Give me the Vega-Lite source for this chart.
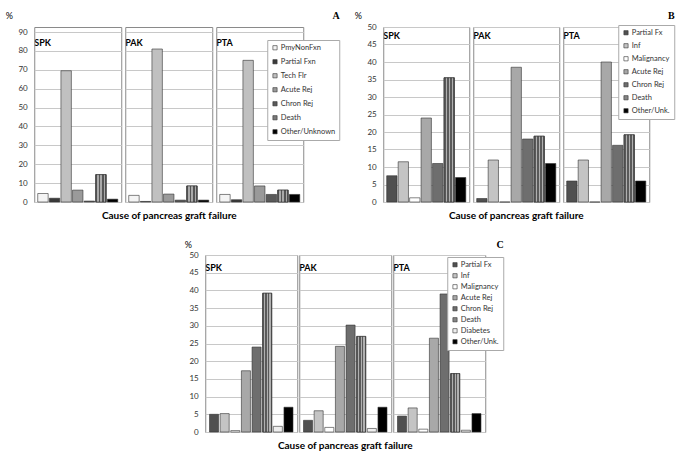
{
  "$schema": "https://vega.github.io/schema/vega-lite/v6.json",
  "background": "white",
  "padding": {"left": 5, "top": 11, "right": 2, "bottom": 2},
  "config": {
    "font": "Lato",
    "view": {"stroke": "#8a8a8a", "strokeWidth": 1},
    "axis": {"labelFontSize": 8, "labelColor": "#333", "ticks": false, "domain": false, "gridColor": "#c8c8c8", "gridWidth": 1, "labelPadding": 6, "titleFontSize": 9, "titleFontWeight": "normal", "titleAngle": 0, "titleAlign": "left", "titleBaseline": "middle"},
    "legend": {"labelFontSize": 7.5, "labelColor": "#333", "symbolType": "square", "symbolSize": 18, "symbolStrokeColor": "#333", "symbolStrokeWidth": 0.6, "strokeColor": "#aaa", "fillColor": "white", "padding": 4, "title": null, "labelFont": "Lato", "labelOffset": 2},
    "header": {"labelFontWeight": "bold", "labelFontSize": 9, "titleFontWeight": "bold", "titleFontSize": 10, "labelFont": "Lato", "titleFont": "Lato", "titlePadding": -2},
    "title": {"fontSize": 10, "fontWeight": "bold", "anchor": "end", "font": "Liberation Serif", "offset": -10}
  },
  "datasets": {
    "A": [
      {"group": "SPK", "cause": "PmyNonFxn", "value": 4.5},
      {"group": "SPK", "cause": "Partial Fxn", "value": 2},
      {"group": "SPK", "cause": "Tech Flr", "value": 69.5},
      {"group": "SPK", "cause": "Acute Rej", "value": 6.3},
      {"group": "SPK", "cause": "Chron Rej", "value": 0.5},
      {"group": "SPK", "cause": "Death", "value": 14.5},
      {"group": "SPK", "cause": "Other/Unknown", "value": 1.5},
      {"group": "PAK", "cause": "PmyNonFxn", "value": 3.5},
      {"group": "PAK", "cause": "Partial Fxn", "value": 0.3},
      {"group": "PAK", "cause": "Tech Flr", "value": 81},
      {"group": "PAK", "cause": "Acute Rej", "value": 4.2},
      {"group": "PAK", "cause": "Chron Rej", "value": 1},
      {"group": "PAK", "cause": "Death", "value": 8.5},
      {"group": "PAK", "cause": "Other/Unknown", "value": 1},
      {"group": "PTA", "cause": "PmyNonFxn", "value": 4},
      {"group": "PTA", "cause": "Partial Fxn", "value": 1.2},
      {"group": "PTA", "cause": "Tech Flr", "value": 75},
      {"group": "PTA", "cause": "Acute Rej", "value": 8.5},
      {"group": "PTA", "cause": "Chron Rej", "value": 4},
      {"group": "PTA", "cause": "Death", "value": 6.3},
      {"group": "PTA", "cause": "Other/Unknown", "value": 4}
    ],
    "B": [
      {"group": "SPK", "cause": "Partial Fx", "value": 7.5},
      {"group": "SPK", "cause": "Inf", "value": 11.5},
      {"group": "SPK", "cause": "Malignancy", "value": 1.2},
      {"group": "SPK", "cause": "Acute Rej", "value": 24},
      {"group": "SPK", "cause": "Chron Rej", "value": 11},
      {"group": "SPK", "cause": "Death", "value": 35.5},
      {"group": "SPK", "cause": "Other/Unk.", "value": 7},
      {"group": "PAK", "cause": "Partial Fx", "value": 1},
      {"group": "PAK", "cause": "Inf", "value": 12},
      {"group": "PAK", "cause": "Malignancy", "value": 0},
      {"group": "PAK", "cause": "Acute Rej", "value": 38.5},
      {"group": "PAK", "cause": "Chron Rej", "value": 18},
      {"group": "PAK", "cause": "Death", "value": 18.8},
      {"group": "PAK", "cause": "Other/Unk.", "value": 11},
      {"group": "PTA", "cause": "Partial Fx", "value": 6},
      {"group": "PTA", "cause": "Inf", "value": 12},
      {"group": "PTA", "cause": "Malignancy", "value": 0},
      {"group": "PTA", "cause": "Acute Rej", "value": 40},
      {"group": "PTA", "cause": "Chron Rej", "value": 16.2},
      {"group": "PTA", "cause": "Death", "value": 19.2},
      {"group": "PTA", "cause": "Other/Unk.", "value": 6}
    ],
    "C": [
      {"group": "SPK", "cause": "Partial Fx", "value": 5},
      {"group": "SPK", "cause": "Inf", "value": 5.2},
      {"group": "SPK", "cause": "Malignancy", "value": 0.4},
      {"group": "SPK", "cause": "Acute Rej", "value": 17.3},
      {"group": "SPK", "cause": "Chron Rej", "value": 24},
      {"group": "SPK", "cause": "Death", "value": 39.2},
      {"group": "SPK", "cause": "Diabetes", "value": 1.6},
      {"group": "SPK", "cause": "Other/Unk.", "value": 7},
      {"group": "PAK", "cause": "Partial Fx", "value": 3.3},
      {"group": "PAK", "cause": "Inf", "value": 6},
      {"group": "PAK", "cause": "Malignancy", "value": 1.3},
      {"group": "PAK", "cause": "Acute Rej", "value": 24.2},
      {"group": "PAK", "cause": "Chron Rej", "value": 30.2},
      {"group": "PAK", "cause": "Death", "value": 27},
      {"group": "PAK", "cause": "Diabetes", "value": 1},
      {"group": "PAK", "cause": "Other/Unk.", "value": 7},
      {"group": "PTA", "cause": "Partial Fx", "value": 4.5},
      {"group": "PTA", "cause": "Inf", "value": 6.8},
      {"group": "PTA", "cause": "Malignancy", "value": 0.8},
      {"group": "PTA", "cause": "Acute Rej", "value": 26.5},
      {"group": "PTA", "cause": "Chron Rej", "value": 39},
      {"group": "PTA", "cause": "Death", "value": 16.5},
      {"group": "PTA", "cause": "Diabetes", "value": 0.5},
      {"group": "PTA", "cause": "Other/Unk.", "value": 5.2}
    ]
  },
  "center": true,
  "spacing": 19,
  "resolve": {"scale": {"color": "independent", "x": "independent", "y": "independent"}, "legend": {"color": "independent"}},
  "vconcat": [
    {
      "spacing": 14,
      "resolve": {"scale": {"color": "independent", "x": "independent", "y": "independent"}, "legend": {"color": "independent"}},
      "hconcat": [
        {
          "data": {"name": "A"},
          "title": {"text": "A"},
          "spacing": 2,
          "facet": {"column": {"field": "group", "type": "nominal", "sort": ["SPK", "PAK", "PTA"], "header": {"title": "Cause of pancreas graft failure", "titleOrient": "bottom", "labelOrient": "top", "labelAnchor": "start", "labelAlign": "left", "labelPadding": -22}}},
          "spec": {
            "width": 87,
            "height": 175,
            "encoding": {
              "x": {"field": "cause", "type": "nominal", "sort": ["PmyNonFxn", "Partial Fxn", "Tech Flr", "Acute Rej", "Chron Rej", "Death", "Other/Unknown"], "axis": null, "scale": {"paddingInner": 0.1, "paddingOuter": 0.3}},
              "y": {"field": "value", "type": "quantitative", "scale": {"domain": [0, 92.65], "nice": false}, "axis": {"values": [0, 10, 20, 30, 40, 50, 60, 70, 80, 90], "title": "%", "titleX": -28, "titleY": -12}}
            },
            "layer": [
              {
                "mark": {"type": "bar", "stroke": "#333", "strokeWidth": 0.6},
                "encoding": {
                  "color": {"field": "cause", "type": "nominal", "scale": {"domain": ["PmyNonFxn", "Partial Fxn", "Tech Flr", "Acute Rej", "Chron Rej", "Death", "Other/Unknown"], "range": ["#f4f4f4", "#3a3a3a", "#c0c0c0", "#9a9a9a", "#5a5a5a", "#7a7a7a", "#000000"]}, "legend": {"orient": "none", "legendX": 233, "legendY": 13, "rowPadding": 5}}
                }
              },
              {
                "transform": [{"filter": "datum.cause === 'Death'"}],
                "mark": {"type": "bar", "stroke": "#333", "strokeWidth": 0.6, "fill": {"gradient": "linear", "x1": 0, "x2": 1, "y1": 0, "y2": 0, "stops": [{"offset": 0, "color": "#555"}, {"offset": 0.15, "color": "#555"}, {"offset": 0.15, "color": "#aaa"}, {"offset": 0.3, "color": "#aaa"}, {"offset": 0.3, "color": "#555"}, {"offset": 0.45, "color": "#555"}, {"offset": 0.45, "color": "#aaa"}, {"offset": 0.6, "color": "#aaa"}, {"offset": 0.6, "color": "#555"}, {"offset": 0.75, "color": "#555"}, {"offset": 0.75, "color": "#aaa"}, {"offset": 0.9, "color": "#aaa"}, {"offset": 0.9, "color": "#555"}, {"offset": 1, "color": "#555"}]}}
              }
            ]
          }
        },
        {
          "data": {"name": "B"},
          "title": {"text": "B"},
          "spacing": 2,
          "facet": {"column": {"field": "group", "type": "nominal", "sort": ["SPK", "PAK", "PTA"], "header": {"title": "Cause of pancreas graft failure", "titleOrient": "bottom", "labelOrient": "top", "labelAnchor": "start", "labelAlign": "left", "labelPadding": -15}}},
          "spec": {
            "width": 86,
            "height": 175,
            "encoding": {
              "x": {"field": "cause", "type": "nominal", "sort": ["Partial Fx", "Inf", "Malignancy", "Acute Rej", "Chron Rej", "Death", "Other/Unk."], "axis": null, "scale": {"paddingInner": 0.1, "paddingOuter": 0.3}},
              "y": {"field": "value", "type": "quantitative", "scale": {"domain": [0, 50]}, "axis": {"values": [0, 5, 10, 15, 20, 25, 30, 35, 40, 45, 50], "title": "%", "titleX": -28, "titleY": -12}}
            },
            "layer": [
              {
                "mark": {"type": "bar", "stroke": "#333", "strokeWidth": 0.6},
                "encoding": {
                  "color": {"field": "cause", "type": "nominal", "scale": {"domain": ["Partial Fx", "Inf", "Malignancy", "Acute Rej", "Chron Rej", "Death", "Other/Unk."], "range": ["#505050", "#c4c4c4", "#ffffff", "#a8a8a8", "#6e6e6e", "#858585", "#000000"]}, "legend": {"orient": "none", "legendX": 235, "legendY": -2, "rowPadding": 4}}
                }
              },
              {
                "transform": [{"filter": "datum.cause === 'Death'"}],
                "mark": {"type": "bar", "stroke": "#333", "strokeWidth": 0.6, "fill": {"gradient": "linear", "x1": 0, "x2": 1, "y1": 0, "y2": 0, "stops": [{"offset": 0, "color": "#5a5a5a"}, {"offset": 0.15, "color": "#5a5a5a"}, {"offset": 0.15, "color": "#b0b0b0"}, {"offset": 0.3, "color": "#b0b0b0"}, {"offset": 0.3, "color": "#5a5a5a"}, {"offset": 0.45, "color": "#5a5a5a"}, {"offset": 0.45, "color": "#b0b0b0"}, {"offset": 0.6, "color": "#b0b0b0"}, {"offset": 0.6, "color": "#5a5a5a"}, {"offset": 0.75, "color": "#5a5a5a"}, {"offset": 0.75, "color": "#b0b0b0"}, {"offset": 0.9, "color": "#b0b0b0"}, {"offset": 0.9, "color": "#5a5a5a"}, {"offset": 1, "color": "#5a5a5a"}]}}
              }
            ]
          }
        }
      ]
    },
    {
      "data": {"name": "C"},
      "title": {"text": "C"},
      "spacing": 0,
      "facet": {"column": {"field": "group", "type": "nominal", "sort": ["SPK", "PAK", "PTA"], "header": {"title": "Cause of pancreas graft failure", "titleOrient": "bottom", "labelOrient": "top", "labelAnchor": "start", "labelAlign": "left", "labelPadding": -19}}},
      "spec": {
        "width": 92,
        "height": 177,
        "encoding": {
          "x": {"field": "cause", "type": "nominal", "sort": ["Partial Fx", "Inf", "Malignancy", "Acute Rej", "Chron Rej", "Death", "Diabetes", "Other/Unk."], "axis": null, "scale": {"paddingInner": 0.15, "paddingOuter": 0.4}},
          "y": {"field": "value", "type": "quantitative", "scale": {"domain": [0, 50]}, "axis": {"values": [0, 5, 10, 15, 20, 25, 30, 35, 40, 45, 50], "title": "%", "titleX": -20, "titleY": -11}}
        },
        "layer": [
          {
            "mark": {"type": "bar", "stroke": "#333", "strokeWidth": 0.6},
            "encoding": {
              "color": {"field": "cause", "type": "nominal", "scale": {"domain": ["Partial Fx", "Inf", "Malignancy", "Acute Rej", "Chron Rej", "Death", "Diabetes", "Other/Unk."], "range": ["#505050", "#c4c4c4", "#ffffff", "#a8a8a8", "#6e6e6e", "#858585", "#eeeeee", "#000000"]}, "legend": {"orient": "none", "legendX": 242, "legendY": 2, "rowPadding": 2}}
            }
          },
          {
            "transform": [{"filter": "datum.cause === 'Death'"}],
            "mark": {"type": "bar", "stroke": "#333", "strokeWidth": 0.6, "fill": {"gradient": "linear", "x1": 0, "x2": 1, "y1": 0, "y2": 0, "stops": [{"offset": 0, "color": "#5a5a5a"}, {"offset": 0.15, "color": "#5a5a5a"}, {"offset": 0.15, "color": "#b0b0b0"}, {"offset": 0.3, "color": "#b0b0b0"}, {"offset": 0.3, "color": "#5a5a5a"}, {"offset": 0.45, "color": "#5a5a5a"}, {"offset": 0.45, "color": "#b0b0b0"}, {"offset": 0.6, "color": "#b0b0b0"}, {"offset": 0.6, "color": "#5a5a5a"}, {"offset": 0.75, "color": "#5a5a5a"}, {"offset": 0.75, "color": "#b0b0b0"}, {"offset": 0.9, "color": "#b0b0b0"}, {"offset": 0.9, "color": "#5a5a5a"}, {"offset": 1, "color": "#5a5a5a"}]}}
          }
        ]
      }
    }
  ]
}
